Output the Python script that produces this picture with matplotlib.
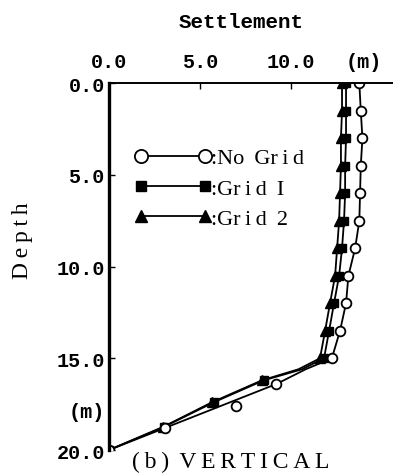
import numpy as np
import matplotlib.pyplot as plt
from matplotlib.lines import Line2D

# Messpunkte (Tiefe in m, Setzung in m)
depth_ng = [0, 1.5, 3, 4.5, 6, 7.5, 9, 10.5, 12, 13.5, 15, 16.4, 17.6, 18.8, 20]
settle_ng = [13.75, 13.83, 13.92, 13.83, 13.79, 13.75, 13.52, 13.15, 13.02, 12.69, 12.24,
             9.2, 7.0, 3.1, 0.0]

depth_g = [0, 1.5, 3, 4.5, 6, 7.5, 9, 10.5, 12, 13.5, 15, 16.2, 17.4, 18.75, 20]
settle_g1 = [13.02, 13.02, 13.02, 12.97, 12.97, 12.91, 12.80, 12.64, 12.36, 12.09, 11.81,
             8.5, 5.75, 3.0, 0.0]
settle_g2 = [12.80, 12.80, 12.74, 12.74, 12.69, 12.64, 12.53, 12.42, 12.14, 11.87, 11.59,
             8.4, 5.65, 2.95, 0.0]

# Kurvenverlauf (geglaettete Linien)
line_depth_ng = [0, 1.5, 3, 4.5, 6, 7.5, 9, 10.5, 12, 13.5, 15, 15.6, 16.4, 20]
line_settle_ng = [13.75, 13.83, 13.92, 13.83, 13.79, 13.75, 13.52, 13.15, 13.02, 12.69, 12.24,
                  10.8, 9.2, 0.0]
line_depth_g = [0, 1.5, 3, 4.5, 6, 7.5, 9, 10.5, 12, 13.5, 15, 15.6, 16.2, 17.4, 18.75, 20]
line_settle_g1 = [13.02, 13.02, 13.02, 12.97, 12.97, 12.91, 12.80, 12.64, 12.36, 12.09, 11.81,
                  10.6, 8.5, 5.75, 3.0, 0.0]
line_settle_g2 = [12.80, 12.80, 12.74, 12.74, 12.69, 12.64, 12.53, 12.42, 12.14, 11.87, 11.59,
                  10.4, 8.4, 5.65, 2.95, 0.0]

x_ticks = [0, 5, 10, 14]
x_labels = ["0.0", "5.0", "10.0", "(m)"]
y_ticks = [0, 5, 10, 15, 17.8, 20]
y_labels = ["0.0", "5.0", "10.0", "15.0", "(m)", "20.0"]
legend_labels = [":No\u2009 Gr\u2009i\u2009d", ":Gr\u2009i\u2009d\u2009 I", ":Gr\u2009i\u2009d\u2009 2"]

mono = "Liberation Mono"
serif = "Liberation Serif"

fig = plt.figure(figsize=(3.93, 4.77), dpi=100)
ax = fig.add_axes([0.2774, 0.0545, 0.7226, 0.769])

ax.plot(line_settle_ng, line_depth_ng, color="black", lw=1.3)
ax.plot(line_settle_g1, line_depth_g, color="black", lw=1.3)
ax.plot(line_settle_g2, line_depth_g, color="black", lw=1.3)

ax.plot(settle_g2, depth_g, ls="none", marker="^", ms=7.5, color="black")
ax.plot(settle_g1, depth_g, ls="none", marker="s", ms=6, color="black")
ax.plot(settle_ng, depth_ng, ls="none", marker="o", ms=7, mfc="white", mec="black", mew=1.3)

ax.set_xlim(0, 15.6)
ax.set_ylim(20, 0)

ax.spines["right"].set_visible(False)
ax.spines["bottom"].set_visible(False)
ax.spines["left"].set_linewidth(2.4)
ax.spines["top"].set_linewidth(1.4)

ax.xaxis.tick_top()
ax.set_xticks(x_ticks)
ax.set_xticklabels(x_labels, family=mono, fontweight="bold", fontsize=14.5)
ax.set_yticks(y_ticks)
ax.set_yticklabels(y_labels, family=mono, fontweight="bold", fontsize=14.5)
ax.tick_params(axis="x", direction="in", length=4, width=1, pad=9)
ax.tick_params(axis="y", direction="in", length=4, width=1, pad=3)
ax.xaxis.get_major_ticks()[3].tick2line.set_visible(False)
ax.yaxis.get_major_ticks()[4].tick1line.set_visible(False)

# Legende
handles = [
    Line2D([], [], color="black", lw=1.3, marker="o", ms=9.5, mfc="white", mec="black", mew=1.3),
    Line2D([], [], color="black", lw=1.3, marker="s", ms=7),
    Line2D([], [], color="black", lw=1.3, marker="^", ms=8.5),
]
leg = ax.legend(handles, legend_labels, loc="upper left",
                bbox_to_anchor=(0.02, 0.878), frameon=False, numpoints=2,
                handlelength=3.45, handletextpad=0.0, labelspacing=0.44,
                prop={"family": serif, "size": 16})

fig.text(0.613, 0.953, "Settlement", family=mono, fontweight="bold", fontsize=15,
         ha="center", va="center")
fig.text(0.056, 0.495, "D\u2009e\u2009p\u2009t\u2009h", family=serif, fontsize=17, rotation=90,
         ha="center", va="center")
fig.text(0.587, 0.031, "(\u2009b\u2009)\u2009 V\u2009E\u2009R\u2009T\u2009I\u2009C\u2009A\u2009L",
         family=serif, fontsize=17, ha="center", va="center")

fig.savefig("out.png", dpi=100)
